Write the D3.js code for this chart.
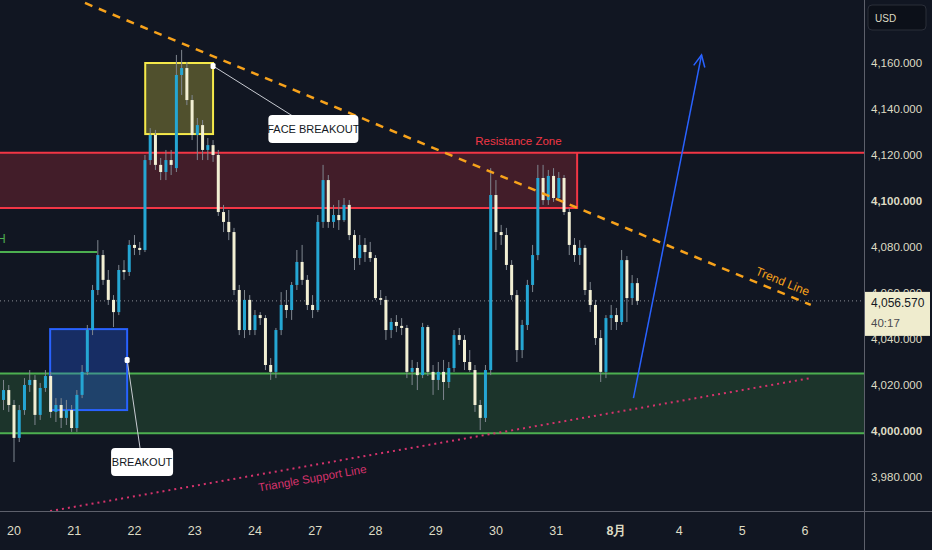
<!DOCTYPE html>
<html>
<head>
<meta charset="utf-8">
<script src="https://cdn.jsdelivr.net/npm/d3@7"></script>
<style>
  html, body { margin: 0; padding: 0; background: #111622; }
  svg { display: block; }
  text { font-family: 'Liberation Sans', Arial, sans-serif; }
</style>
</head>
<body>
<div id="container"></div>
<script>
'use strict';

const w = 932;
const h = 550;
const plotRight = 864;   // price scale panel starts here.
const plotBottom = 511;  // time axis line.

// Time axis: trading-hour index of each day start, and its label.
const dayHours = [0, 23, 46, 69, 92, 115, 138, 161, 184, 207, 230, 254, 278, 302];
const dayLabels = ['20', '21', '22', '23', '24', '27', '28', '29', '30', '31', '8月', '4', '5', '6'];

// Price axis ticks.
const priceTicks = [3980, 4000, 4020, 4040, 4060, 4080, 4100, 4120, 4140, 4160];
const boldTicks = [4000, 4100];

// Candles, one every 2 trading hours starting at hour -4: [open, high, low, close].
const candleStart = -4;
const candleStep = 2;
const candles = [
  [4013.5, 4022.2, 4009.1, 4017.8], [4017.8, 4020.0, 4008.3, 4011.3], [4011.3, 4013.5, 3986.5, 3997.0],
  [3997.0, 4011.3, 3995.2, 4009.1], [4009.1, 4023.0, 4007.0, 4020.0], [4020.0, 4026.5, 4017.0, 4022.2],
  [4022.2, 4024.3, 4002.6, 4007.0], [4007.0, 4020.9, 4004.8, 4018.7], [4018.7, 4026.5, 4017.0, 4023.9],
  [4023.9, 4025.7, 4005.7, 4008.3], [4008.3, 4014.3, 4003.9, 4011.3], [4011.3, 4014.3, 4001.3, 4005.7],
  [4005.7, 4013.5, 4002.6, 4009.1], [4009.1, 4011.3, 3999.6, 4001.3], [4001.3, 4017.8, 3999.6, 4015.7],
  [4015.7, 4028.7, 4014.3, 4025.7], [4025.7, 4046.1, 4024.3, 4043.9], [4043.9, 4063.5, 4041.7, 4061.3],
  [4061.3, 4083.0, 4059.1, 4076.5], [4076.5, 4078.7, 4063.5, 4065.7], [4065.7, 4070.0, 4054.8, 4057.0],
  [4057.0, 4059.1, 4045.2, 4051.7], [4051.7, 4072.2, 4050.4, 4070.0], [4070.0, 4074.3, 4065.7, 4069.1],
  [4069.1, 4083.0, 4067.4, 4080.9], [4080.9, 4085.2, 4076.5, 4079.6], [4079.6, 4082.2, 4076.5, 4078.7],
  [4078.7, 4120.0, 4077.8, 4117.8], [4117.8, 4131.7, 4115.7, 4128.7], [4128.7, 4130.9, 4113.5, 4115.7],
  [4115.7, 4118.7, 4109.1, 4112.6], [4112.6, 4122.2, 4109.1, 4117.8], [4117.8, 4122.2, 4111.3, 4115.7],
  [4114.3, 4163.5, 4112.6, 4154.8], [4154.8, 4165.7, 4146.1, 4157.8], [4157.8, 4160.4, 4141.7, 4143.9],
  [4143.9, 4146.1, 4126.5, 4128.7], [4128.7, 4136.1, 4117.8, 4133.0], [4133.0, 4135.2, 4117.8, 4122.2],
  [4122.2, 4127.4, 4117.8, 4124.3], [4124.3, 4126.5, 4117.0, 4120.0], [4120.0, 4122.2, 4093.5, 4095.2],
  [4095.2, 4098.3, 4086.5, 4090.9], [4090.9, 4096.1, 4083.0, 4086.5], [4086.5, 4088.3, 4059.1, 4061.3],
  [4061.3, 4063.5, 4041.7, 4043.9], [4043.9, 4061.3, 4040.4, 4057.0], [4057.0, 4059.1, 4041.7, 4043.9],
  [4043.9, 4052.6, 4041.7, 4050.4], [4050.4, 4051.7, 4046.1, 4049.1], [4049.1, 4050.4, 4026.5, 4028.7],
  [4028.7, 4031.7, 4022.2, 4025.7], [4025.7, 4044.8, 4023.0, 4043.9], [4043.9, 4060.4, 4041.7, 4054.8],
  [4054.8, 4061.3, 4049.1, 4052.6], [4052.6, 4064.8, 4048.3, 4063.5], [4063.5, 4078.7, 4061.3, 4073.5],
  [4073.5, 4080.9, 4063.5, 4065.7], [4065.7, 4067.8, 4052.6, 4054.8], [4054.8, 4059.1, 4049.1, 4052.6],
  [4052.6, 4093.9, 4051.7, 4090.9], [4090.9, 4115.7, 4088.3, 4109.1], [4109.1, 4111.3, 4088.3, 4090.9],
  [4090.9, 4098.3, 4088.3, 4093.9], [4093.9, 4100.4, 4087.4, 4091.7], [4091.7, 4101.3, 4090.9, 4098.3],
  [4098.3, 4100.4, 4083.0, 4085.2], [4085.2, 4087.4, 4070.0, 4075.2], [4075.2, 4085.2, 4072.2, 4080.9],
  [4080.9, 4083.9, 4073.5, 4077.8], [4077.8, 4082.2, 4073.5, 4075.2], [4075.2, 4076.5, 4057.0, 4057.8],
  [4057.8, 4061.3, 4054.8, 4057.0], [4057.0, 4058.7, 4039.6, 4043.9], [4043.9, 4049.1, 4040.4, 4047.4],
  [4047.4, 4050.4, 4043.0, 4045.7], [4045.7, 4049.1, 4041.7, 4044.8], [4044.8, 4046.1, 4023.0, 4025.7],
  [4025.7, 4030.9, 4020.0, 4027.4], [4027.4, 4030.0, 4017.8, 4024.3], [4024.3, 4047.0, 4023.0, 4045.2],
  [4045.2, 4046.1, 4023.9, 4025.7], [4025.7, 4028.7, 4015.7, 4022.2], [4022.2, 4030.0, 4017.8, 4025.7],
  [4025.7, 4030.9, 4013.5, 4021.3], [4021.3, 4030.0, 4018.7, 4027.4], [4027.4, 4043.9, 4025.7, 4041.7],
  [4041.7, 4044.8, 4037.4, 4039.6], [4039.6, 4041.7, 4026.5, 4030.0], [4030.0, 4035.2, 4025.7, 4026.5],
  [4026.5, 4028.7, 4008.3, 4011.3], [4011.3, 4013.5, 4000.4, 4005.7], [4005.7, 4028.7, 4003.9, 4026.5],
  [4026.5, 4114.3, 4024.3, 4102.6], [4102.6, 4109.1, 4078.7, 4086.5], [4086.5, 4089.6, 4080.9, 4085.2],
  [4085.2, 4088.3, 4070.0, 4072.2], [4072.2, 4074.3, 4057.0, 4059.1], [4059.1, 4061.3, 4030.0, 4035.2],
  [4035.2, 4048.3, 4031.7, 4046.1], [4046.1, 4065.7, 4043.9, 4063.5], [4063.5, 4080.9, 4060.4, 4076.5],
  [4076.5, 4115.7, 4074.3, 4110.0], [4110.0, 4115.7, 4098.3, 4100.4], [4100.4, 4113.5, 4098.3, 4110.9],
  [4110.9, 4114.3, 4099.6, 4101.3], [4101.3, 4112.6, 4100.4, 4110.0], [4110.0, 4111.3, 4093.9, 4095.2],
  [4095.2, 4097.0, 4076.5, 4080.9], [4080.9, 4083.9, 4073.5, 4076.5], [4076.5, 4083.0, 4072.2, 4079.6],
  [4079.6, 4080.9, 4059.1, 4061.3], [4061.3, 4064.8, 4051.7, 4054.8], [4054.8, 4057.0, 4037.4, 4040.4],
  [4040.4, 4043.9, 4021.3, 4025.7], [4025.7, 4050.4, 4023.0, 4049.1], [4049.1, 4054.8, 4043.9, 4050.4],
  [4050.4, 4053.5, 4043.9, 4047.4], [4047.4, 4078.7, 4046.1, 4074.3], [4074.3, 4076.1, 4047.4, 4057.8],
  [4057.8, 4067.8, 4054.8, 4064.3], [4064.3, 4066.5, 4054.8, 4056.57]
];

const lastPrice = 4056.57;
const countdown = '40:17';

// Drawings, in [hour, price].
const resistanceZone = { top: 4121, bottom: 4097, end: 215 };
const supportZone = { top: 4025, bottom: 3999 };
const highLine = { price: 4077.8, start: -8, end: 31.7 };
const faceBox = { h0: 50.1, h1: 76, p0: 4160, p1: 4129.1 };
const breakoutBox = { h0: 13.8, h1: 43.2, p0: 4044.3, p1: 4009.1 };
const trendLine = [[27.1, 4186.1], [304.2, 4054.8]];
const supportLine = [[13.8, 3965.2], [304.2, 4023.0]];
const arrowLine = [[236.5, 4014.3], [262.5, 4163.5]];
const callouts = [
  { text: 'FACE BREAKOUT', anchor: [76, 4158.7], at: [114.3, 4131.3], width: 90 },
  { text: 'BREAKOUT', anchor: [43.2, 4030.9], at: [48.9, 3986.5], width: 62 }
];

const svg = d3.select('#container')
    .append('svg')
    .attr('width', w)
    .attr('height', h);

svg.append('rect').attr('width', w).attr('height', h).attr('fill', '#111622');

const x = d3.scaleLinear().domain([0, 302]).range([14, 805]);
const y = d3.scaleLinear().domain([4000, 4160]).range([431, 63]);

const plot = svg.append('g');
plot.append('clipPath').attr('id', 'clip')
    .append('rect').attr('width', plotRight).attr('height', plotBottom);
const g = plot.append('g').attr('clip-path', 'url(#clip)');

// Zones.
g.append('rect')
    .attr('x', 0).attr('y', y(resistanceZone.top))
    .attr('width', x(resistanceZone.end))
    .attr('height', y(resistanceZone.bottom) - y(resistanceZone.top))
    .attr('fill', '#f23645').attr('fill-opacity', 0.22);
g.append('line')
    .attr('x1', 0).attr('x2', plotRight)
    .attr('y1', y(resistanceZone.top)).attr('y2', y(resistanceZone.top))
    .attr('stroke', '#f23645').attr('stroke-width', 2);
g.append('polyline')
    .attr('points', [[0, y(resistanceZone.bottom)], [x(resistanceZone.end), y(resistanceZone.bottom)],
        [x(resistanceZone.end), y(resistanceZone.top)]].join(' '))
    .attr('fill', 'none').attr('stroke', '#f23645').attr('stroke-width', 2);

g.append('rect')
    .attr('x', 0).attr('y', y(supportZone.top))
    .attr('width', plotRight)
    .attr('height', y(supportZone.bottom) - y(supportZone.top))
    .attr('fill', '#4caf50').attr('fill-opacity', 0.2);
[supportZone.top, supportZone.bottom].forEach(p => {
    g.append('line')
        .attr('x1', 0).attr('x2', plotRight)
        .attr('y1', y(p)).attr('y2', y(p))
        .attr('stroke', '#4caf50').attr('stroke-width', 2);
});

g.append('line')
    .attr('x1', x(highLine.start)).attr('x2', x(highLine.end))
    .attr('y1', y(highLine.price)).attr('y2', y(highLine.price))
    .attr('stroke', '#4caf50').attr('stroke-width', 2);
g.append('text')
    .attr('x', -3).attr('y', y(highLine.price) - 9)
    .attr('fill', '#4caf50').attr('font-size', 12)
    .text('H');

// Current price line.
g.append('line')
    .attr('x1', 0).attr('x2', plotRight)
    .attr('y1', y(lastPrice)).attr('y2', y(lastPrice))
    .attr('stroke', '#8a8d96').attr('stroke-width', 1)
    .attr('stroke-dasharray', '1,3');

// Boxes.
g.append('rect')
    .attr('x', x(faceBox.h0)).attr('y', y(faceBox.p0))
    .attr('width', x(faceBox.h1) - x(faceBox.h0))
    .attr('height', y(faceBox.p1) - y(faceBox.p0))
    .attr('fill', '#f5e94a').attr('fill-opacity', 0.28)
    .attr('stroke', '#f5e94a').attr('stroke-width', 2);
g.append('rect')
    .attr('x', x(breakoutBox.h0)).attr('y', y(breakoutBox.p0))
    .attr('width', x(breakoutBox.h1) - x(breakoutBox.h0))
    .attr('height', y(breakoutBox.p1) - y(breakoutBox.p0))
    .attr('fill', '#2962ff').attr('fill-opacity', 0.3)
    .attr('stroke', '#2962ff').attr('stroke-width', 2);

// Candles.
const candle = g.append('g').selectAll('g')
    .data(candles)
    .enter()
    .append('g');
candle.append('line')
    .attr('x1', (d, i) => x(candleStart + i * candleStep))
    .attr('x2', (d, i) => x(candleStart + i * candleStep))
    .attr('y1', d => y(d[1]))
    .attr('y2', d => y(d[2]))
    .attr('stroke', '#7f868f').attr('stroke-width', 1);
candle.append('rect')
    .attr('x', (d, i) => x(candleStart + i * candleStep) - 1.5)
    .attr('y', d => y(Math.max(d[0], d[3])))
    .attr('width', 3)
    .attr('height', d => Math.max(1, Math.abs(y(d[0]) - y(d[3]))))
    .attr('fill', d => d[3] >= d[0] ? '#25a6d3' : '#f2efd4');

// Trend line and support line.
g.append('line')
    .attr('x1', x(trendLine[0][0])).attr('y1', y(trendLine[0][1]))
    .attr('x2', x(trendLine[1][0])).attr('y2', y(trendLine[1][1]))
    .attr('stroke', '#f7a21b').attr('stroke-width', 2.5)
    .attr('stroke-dasharray', '8,7');
g.append('line')
    .attr('x1', x(supportLine[0][0])).attr('y1', y(supportLine[0][1]))
    .attr('x2', x(supportLine[1][0])).attr('y2', y(supportLine[1][1]))
    .attr('stroke', '#d6336c').attr('stroke-width', 2)
    .attr('stroke-dasharray', '2,4');

const angle = (l) => Math.atan2(y(l[1][1]) - y(l[0][1]), x(l[1][0]) - x(l[0][0])) * 180 / Math.PI;
const labelAt = (l, hr, off) => {
    const t = (hr - l[0][0]) / (l[1][0] - l[0][0]);
    return [x(hr), y(l[0][1] + t * (l[1][1] - l[0][1])) + off];
};

const tl = labelAt(trendLine, 293.5, -12);
g.append('text')
    .attr('transform', 'translate(' + tl[0] + ',' + tl[1] + ') rotate(' + angle(trendLine) + ')')
    .attr('text-anchor', 'middle').attr('dy', '0.35em')
    .attr('fill', '#f7a21b').attr('font-size', 12)
    .text('Trend Line');

const sl = labelAt(supportLine, 113.9, 13);
g.append('text')
    .attr('transform', 'translate(' + sl[0] + ',' + sl[1] + ') rotate(' + angle(supportLine) + ')')
    .attr('text-anchor', 'middle').attr('dy', '0.35em')
    .attr('fill', '#d6336c').attr('font-size', 11.5)
    .text('Triangle Support Line');

g.append('text')
    .attr('x', x(192.6)).attr('y', y(resistanceZone.top) - 8)
    .attr('text-anchor', 'middle')
    .attr('fill', '#f23645').attr('font-size', 11.5)
    .text('Resistance Zone');

// Blue arrow.
const ax1 = x(arrowLine[1][0]), ay1 = y(arrowLine[1][1]);
const ax0 = x(arrowLine[0][0]), ay0 = y(arrowLine[0][1]);
const a = Math.atan2(ay1 - ay0, ax1 - ax0);
g.append('line')
    .attr('x1', ax0).attr('y1', ay0).attr('x2', ax1).attr('y2', ay1)
    .attr('stroke', '#2962ff').attr('stroke-width', 1.5);
g.append('polyline')
    .attr('points', [
        [ax1 - 13 * Math.cos(a - 0.45), ay1 - 13 * Math.sin(a - 0.45)],
        [ax1, ay1],
        [ax1 - 13 * Math.cos(a + 0.45), ay1 - 13 * Math.sin(a + 0.45)]
    ].join(' '))
    .attr('fill', 'none').attr('stroke', '#2962ff').attr('stroke-width', 1.5);

// Callouts.
callouts.forEach(c => {
    const cx = x(c.at[0]), cy = y(c.at[1]);
    g.append('line')
        .attr('x1', x(c.anchor[0])).attr('y1', y(c.anchor[1]))
        .attr('x2', cx).attr('y2', cy)
        .attr('stroke', '#c8cbd2').attr('stroke-width', 1);
    g.append('rect')
        .attr('x', x(c.anchor[0]) - 2.5).attr('y', y(c.anchor[1]) - 3)
        .attr('width', 5).attr('height', 6).attr('rx', 1.5)
        .attr('fill', '#ffffff');
    g.append('rect')
        .attr('x', cx - c.width / 2).attr('y', cy - 14)
        .attr('width', c.width).attr('height', 28).attr('rx', 4)
        .attr('fill', '#ffffff');
    g.append('text')
        .attr('x', cx).attr('y', cy).attr('dy', '0.35em')
        .attr('text-anchor', 'middle')
        .attr('fill', '#131722').attr('font-size', 11)
        .text(c.text);
});

// Axis lines.
svg.append('line')
    .attr('x1', 0).attr('x2', w).attr('y1', plotBottom + 0.5).attr('y2', plotBottom + 0.5)
    .attr('stroke', '#5d606b');
svg.append('line')
    .attr('x1', plotRight + 0.5).attr('x2', plotRight + 0.5).attr('y1', 0).attr('y2', h)
    .attr('stroke', '#5d606b');

// Time axis labels.
svg.append('g').selectAll('text')
    .data(dayHours)
    .enter()
    .append('text')
    .attr('x', d => x(d))
    .attr('y', 535)
    .attr('text-anchor', 'middle')
    .attr('fill', '#dedbc4')
    .attr('font-size', 12.5)
    .attr('font-weight', (d, i) => dayLabels[i] === '8月' ? 'bold' : 'normal')
    .text((d, i) => dayLabels[i]);

// Price axis labels.
const fmt = d3.format(',.3f');
svg.append('g').selectAll('text')
    .data(priceTicks)
    .enter()
    .append('text')
    .attr('x', 871)
    .attr('y', d => y(d))
    .attr('dy', '0.35em')
    .attr('fill', '#dedbc4')
    .attr('font-size', 11.5)
    .attr('font-weight', d => boldTicks.includes(d) ? 'bold' : 'normal')
    .text(d => fmt(d));

// USD box.
svg.append('rect')
    .attr('x', 868).attr('y', 5).attr('width', 58).attr('height', 25).attr('rx', 4)
    .attr('fill', '#0c1019').attr('stroke', '#2a2e39');
svg.append('text')
    .attr('x', 875).attr('y', 18).attr('dy', '0.35em')
    .attr('fill', '#dedbc4').attr('font-size', 10)
    .text('USD');

// Last price tag.
svg.append('rect')
    .attr('x', plotRight + 1).attr('y', y(lastPrice) - 9)
    .attr('width', 65).attr('height', 44)
    .attr('fill', '#efecce');
svg.append('text')
    .attr('x', 871).attr('y', y(lastPrice) + 2).attr('dy', '0.35em')
    .attr('fill', '#131722').attr('font-size', 12)
    .text(fmt(lastPrice));
svg.append('text')
    .attr('x', 871).attr('y', y(lastPrice) + 22).attr('dy', '0.35em')
    .attr('fill', '#4a4b50').attr('font-size', 11.5)
    .text(countdown);
</script>
</body>
</html>
